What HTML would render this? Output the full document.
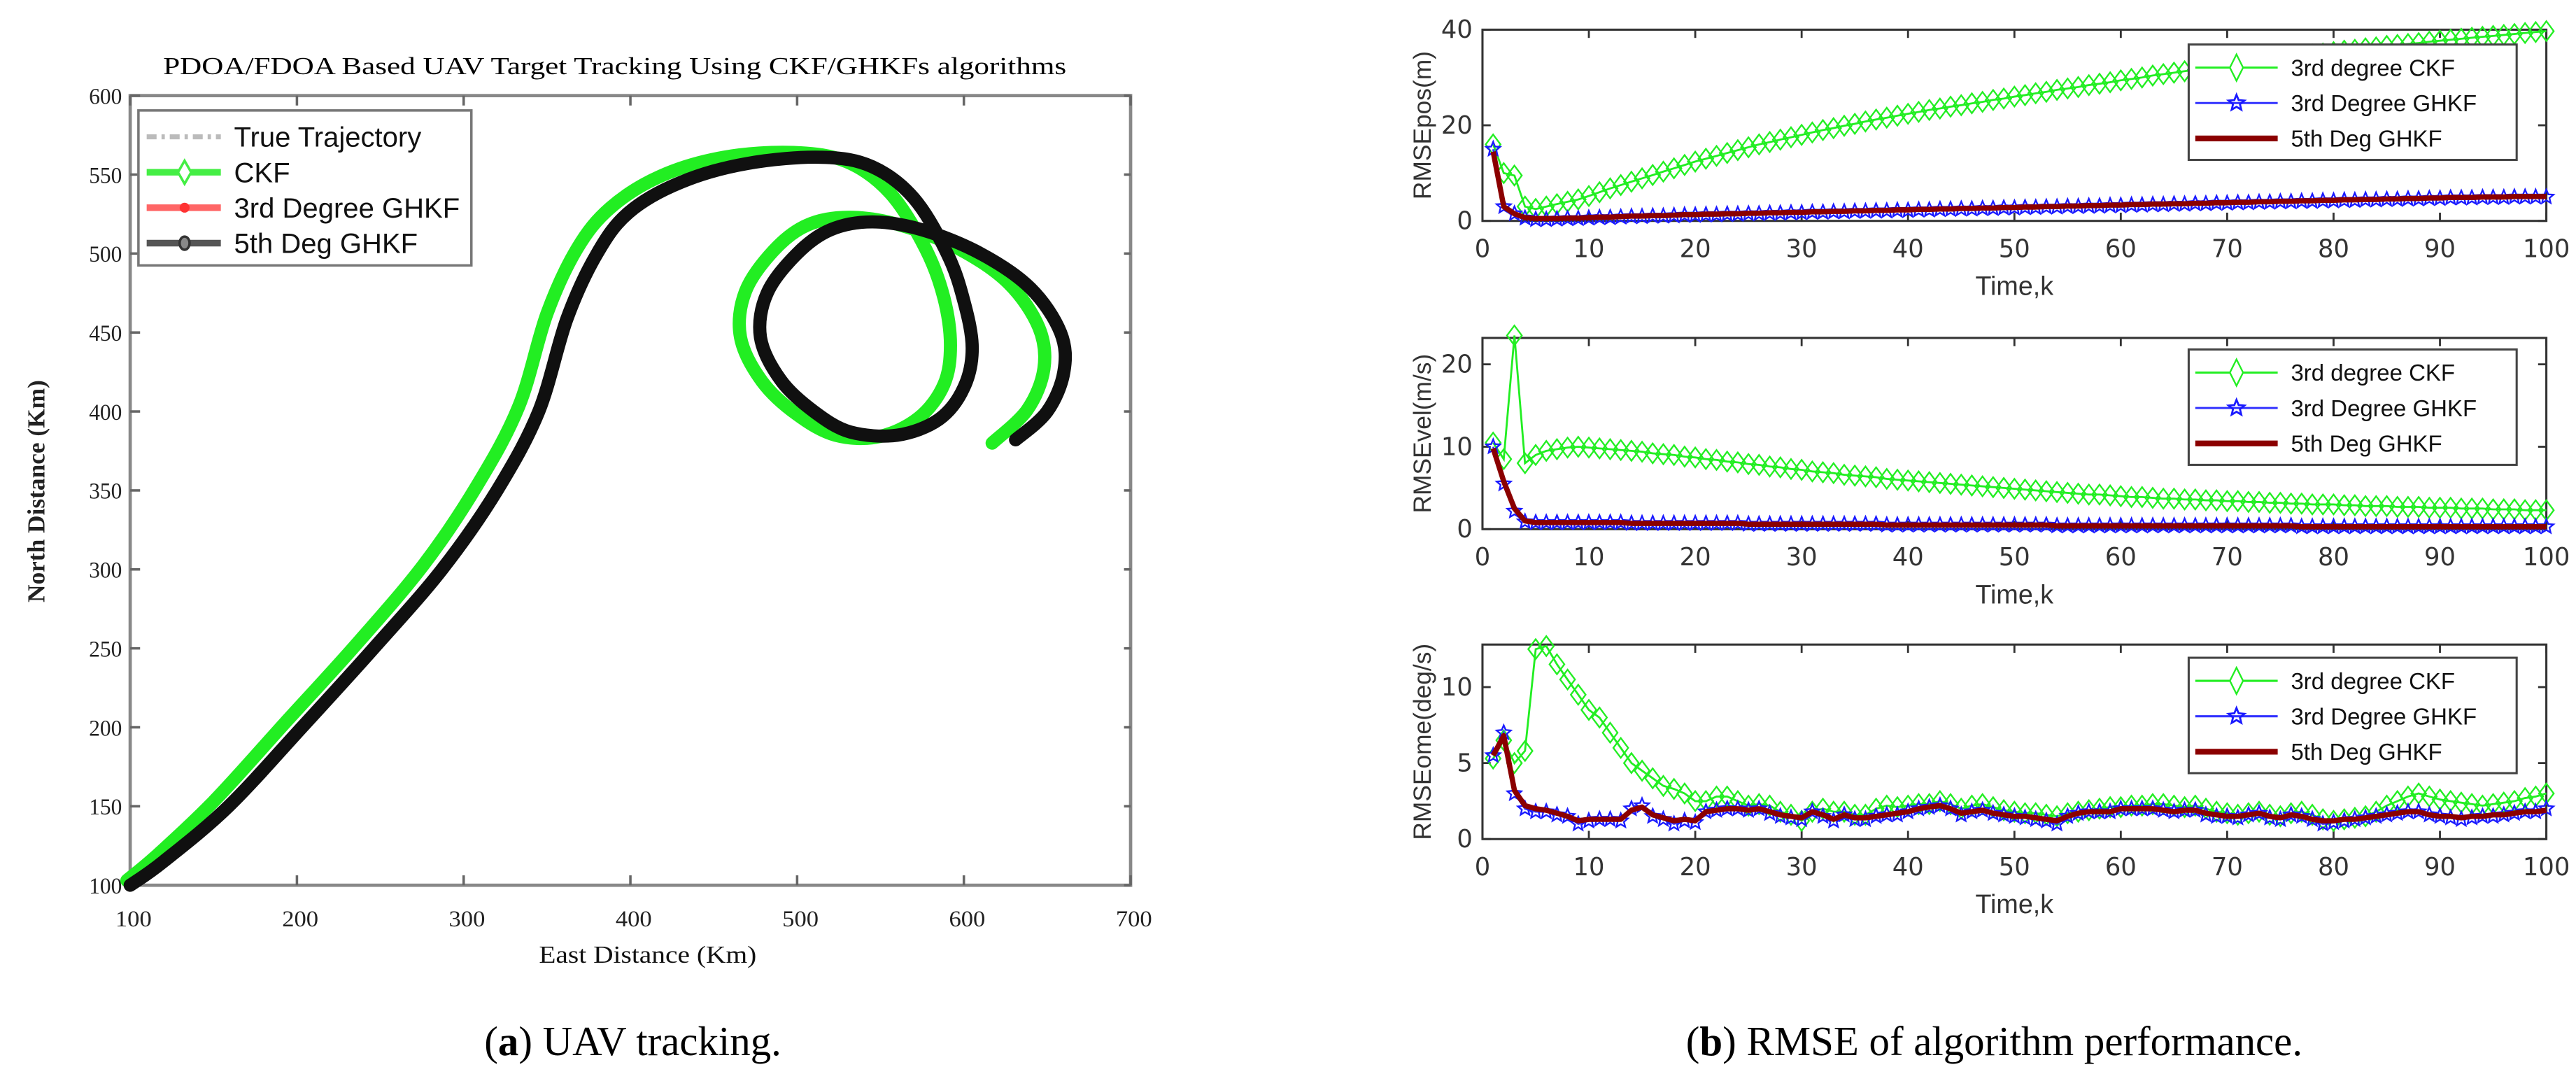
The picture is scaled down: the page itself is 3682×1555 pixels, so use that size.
<!DOCTYPE html>
<html><head><meta charset="utf-8">
<style>
html,body{margin:0;padding:0;background:#fff;}
svg{display:block;}
</style></head>
<body>
<svg id="fig" width="3682" height="1555" viewBox="0 0 1563 660" preserveAspectRatio="none" xmlns="http://www.w3.org/2000/svg">
<rect x="0" y="0" width="1563" height="660" fill="#fff"/>
<g id="left"></g>
<g id="right"></g>
<text x="384" y="640" text-anchor="middle" font-family="Liberation Serif, serif" font-size="25" fill="#000">(<tspan font-weight="bold">a</tspan>) UAV tracking.</text>
<text x="1210" y="640" text-anchor="middle" font-family="Liberation Serif, serif" font-size="25" fill="#000">(<tspan font-weight="bold">b</tspan>) RMSE of algorithm performance.</text>
</svg>
<script>
// ---------- Left chart data ----------
const trueEast = [100,120,159,203,246,287,320,345,362,380,399,430,470,515,545,570,590,600,605,600,585,560,532,510,490,478,482,500,520,545,575,610,640,658,660,650,631];
const trueNorth = [100,115,150,200,250,300,350,400,459,500,526,545,557,561,555,535,500,470,440,415,395,385,387,400,420,447,475,500,515,520,515,500,478,450,425,400,382];
const ckfEast = [98,115,150,193,236,276,308,333,350,368,388,418,456,498,530,556,577,588,592,588,573,549,523,500,479,466,469,486,506,531,562,597,627,645,648,638,617];
const ckfNorth = [103,118,153,203,253,303,353,403,462,503,529,549,561,564,558,538,503,472,442,417,396,384,385,398,419,447,476,502,518,523,518,503,481,453,427,401,380];
const xTicksL = [100,200,300,400,500,600,700];
const yTicksL = [100,150,200,250,300,350,400,450,500,550,600];

// ---------- Right charts data ----------
const kSteps = Array.from({length:100},(_,i)=>i+1);
const posCKF = [16,10,9.5,3,2.5,3,3.5,4,4.5,5.2,6,6.8,7.5,8.2,8.9,9.6,10.3,11,11.7,12.4,13,13.6,14.2,14.8,15.4,16,16.5,17,17.5,18,18.5,19,19.4,19.9,20.3,20.8,21.2,21.6,22,22.4,22.8,23.2,23.5,23.9,24.2,24.6,24.9,25.3,25.6,26,26.3,26.7,27,27.4,27.7,28,28.4,28.7,29,29.4,29.7,30,30.4,30.7,31,31.3,31.6,31.9,32.2,32.5,32.8,33.1,33.4,33.7,34,34.3,34.5,34.8,35,35.3,35.6,35.8,36.1,36.3,36.6,36.8,37,37.2,37.5,37.7,37.9,38.1,38.3,38.5,38.7,38.9,39.1,39.3,39.5,39.7];
const posGH3 = [15,3,1.5,0.6,0.3,0.3,0.4,0.5,0.5,0.6,0.7,0.7,0.8,0.9,0.9,1,1,1.1,1.2,1.2,1.3,1.3,1.4,1.4,1.5,1.5,1.6,1.6,1.7,1.7,1.8,1.8,1.9,1.9,2,2,2.1,2.1,2.2,2.2,2.3,2.3,2.4,2.4,2.5,2.5,2.6,2.6,2.7,2.7,2.8,2.8,2.9,2.9,3,3,3.1,3.1,3.2,3.2,3.3,3.3,3.4,3.4,3.5,3.5,3.6,3.6,3.7,3.7,3.8,3.8,3.9,3.9,4,4,4.1,4.1,4.2,4.2,4.3,4.3,4.4,4.4,4.5,4.5,4.6,4.6,4.7,4.7,4.8,4.8,4.8,4.9,4.9,4.9,5,5,5,5];
const posGH5 = [14.5,3,1.5,0.7,0.5,0.5,0.5,0.6,0.6,0.7,0.8,0.8,0.9,1,1,1.1,1.1,1.2,1.3,1.3,1.4,1.4,1.5,1.5,1.6,1.6,1.7,1.7,1.8,1.8,1.9,1.9,2,2,2.1,2.1,2.2,2.2,2.3,2.3,2.4,2.4,2.5,2.5,2.6,2.6,2.7,2.7,2.8,2.8,2.9,2.9,3,3,3.1,3.1,3.2,3.2,3.3,3.3,3.4,3.4,3.5,3.5,3.6,3.6,3.7,3.7,3.8,3.8,3.9,3.9,4,4,4.1,4.1,4.2,4.2,4.3,4.3,4.4,4.4,4.5,4.5,4.6,4.6,4.7,4.7,4.8,4.8,4.9,4.9,4.9,5,5,5,5.1,5.1,5.1,5.1];
const velCKF = [10.5,8.5,23.5,8,9,9.5,9.7,9.9,10,9.9,9.8,9.7,9.6,9.5,9.4,9.2,9.1,9,8.8,8.7,8.5,8.4,8.2,8.1,7.9,7.8,7.6,7.5,7.3,7.2,7,6.9,6.8,6.6,6.5,6.4,6.3,6.1,6,5.9,5.8,5.7,5.6,5.5,5.4,5.3,5.2,5.1,5,4.9,4.8,4.7,4.6,4.5,4.4,4.3,4.2,4.2,4.1,4,3.9,3.9,3.8,3.7,3.7,3.6,3.6,3.5,3.5,3.4,3.4,3.3,3.3,3.2,3.2,3.1,3.1,3,3,3,2.9,2.9,2.8,2.8,2.8,2.7,2.7,2.7,2.6,2.6,2.6,2.5,2.5,2.5,2.4,2.4,2.4,2.3,2.3,2.3];
const velGH3 = [10,5.5,2.2,0.9,0.8,0.8,0.8,0.8,0.8,0.8,0.8,0.8,0.8,0.7,0.7,0.7,0.7,0.7,0.7,0.7,0.7,0.7,0.7,0.7,0.6,0.6,0.6,0.6,0.6,0.6,0.6,0.6,0.6,0.6,0.6,0.6,0.6,0.5,0.5,0.5,0.5,0.5,0.5,0.5,0.5,0.5,0.5,0.5,0.5,0.5,0.5,0.5,0.5,0.4,0.4,0.4,0.4,0.4,0.4,0.4,0.4,0.4,0.4,0.4,0.4,0.4,0.4,0.4,0.4,0.4,0.4,0.4,0.4,0.4,0.4,0.4,0.3,0.3,0.3,0.3,0.3,0.3,0.3,0.3,0.3,0.3,0.3,0.3,0.3,0.3,0.3,0.3,0.3,0.3,0.3,0.3,0.3,0.3,0.3,0.3];
const velGH5 = [9.8,5.8,2.5,1,0.8,0.8,0.8,0.8,0.8,0.8,0.8,0.8,0.8,0.7,0.7,0.7,0.7,0.7,0.7,0.7,0.7,0.7,0.7,0.7,0.6,0.6,0.6,0.6,0.6,0.6,0.6,0.6,0.6,0.6,0.6,0.6,0.6,0.5,0.5,0.5,0.5,0.5,0.5,0.5,0.5,0.5,0.5,0.5,0.5,0.5,0.5,0.5,0.5,0.4,0.4,0.4,0.4,0.4,0.4,0.4,0.4,0.4,0.4,0.4,0.4,0.4,0.4,0.4,0.4,0.4,0.4,0.4,0.4,0.4,0.4,0.4,0.3,0.3,0.3,0.3,0.3,0.3,0.3,0.3,0.3,0.3,0.3,0.3,0.3,0.3,0.3,0.3,0.3,0.3,0.3,0.3,0.3,0.3,0.3,0.3];
const omeCKF = [5.3,6.5,5,5.8,12.5,12.7,11.5,10.5,9.5,8.5,8,7,6,5,4.5,4,3.5,3.3,3,2.5,2.5,2.8,2.8,2.5,2.2,2.3,2.2,1.8,1.6,1.2,1.8,2,1.8,1.8,1.6,1.6,2,2.2,2.1,2.2,2.3,2.3,2.5,2.3,2,2.2,2.3,2.1,1.9,1.8,1.7,1.7,1.6,1.5,1.7,1.8,1.9,2,2.1,2.1,2.2,2.2,2.3,2.3,2.2,2.1,2.2,2,1.8,1.7,1.6,1.7,1.8,1.6,1.5,1.7,1.8,1.6,1.3,1.2,1.3,1.4,1.5,1.8,2.2,2.5,2.8,3,2.8,2.6,2.5,2.4,2.3,2.2,2.3,2.4,2.5,2.7,2.8,3];
const omeGH3 = [5.5,7,3,2,1.8,1.8,1.6,1.5,1,1.2,1.3,1.3,1.2,2,2.2,1.5,1.3,1,1.2,1.1,1.8,1.9,2,2,1.9,2,1.7,1.5,1.4,1.3,1.8,1.5,1.2,1.6,1.3,1.3,1.5,1.6,1.6,1.8,2,2.1,2.2,2,1.6,1.8,1.9,1.7,1.6,1.5,1.4,1.3,1.2,1,1.5,1.7,1.8,1.8,1.8,2,2,2,2,1.9,1.8,1.9,1.9,1.6,1.5,1.5,1.4,1.6,1.7,1.4,1.3,1.6,1.5,1.3,1,1.1,1.2,1.3,1.4,1.5,1.6,1.7,1.8,1.8,1.6,1.5,1.4,1.3,1.4,1.5,1.5,1.6,1.7,1.8,1.8,2];
const omeGH5 = [5.5,6.8,3.2,2.2,2,1.9,1.7,1.5,1.2,1.3,1.3,1.3,1.3,1.9,2.1,1.6,1.4,1.2,1.3,1.2,1.8,1.9,2,2,1.9,2,1.8,1.6,1.5,1.4,1.8,1.6,1.3,1.6,1.4,1.4,1.5,1.6,1.7,1.8,2,2.1,2.2,2,1.7,1.8,1.9,1.7,1.6,1.5,1.5,1.4,1.3,1.2,1.5,1.7,1.8,1.8,1.8,2,2,2,2,1.9,1.8,1.9,1.9,1.7,1.6,1.5,1.5,1.6,1.7,1.5,1.4,1.6,1.5,1.3,1.2,1.2,1.3,1.3,1.4,1.5,1.6,1.7,1.8,1.8,1.6,1.5,1.5,1.4,1.5,1.5,1.6,1.6,1.7,1.8,1.8,1.9];
const xTicksR = [0,10,20,30,40,50,60,70,80,90,100];

const NS='http://www.w3.org/2000/svg';
function mk(tag, attrs, parent){
  const e=document.createElementNS(NS,tag);
  for(const k in attrs) e.setAttribute(k, attrs[k]);
  parent.appendChild(e); return e;
}
function txt(s, attrs, parent){ const e=mk('text',attrs,parent); e.textContent=s; return e; }

// ---------- Left chart ----------
const L=document.getElementById('left');
const lx0=79, lx1=686, ly0=58, ly1=537;
const lxs=v=>lx0+(v-100)/600*(lx1-lx0);
const lys=v=>ly1-(v-100)/500*(ly1-ly0);
const lt=txt('PDOA/FDOA Based UAV Target Tracking Using CKF/GHKFs algorithms',{x:373,y:45,'text-anchor':'middle','font-family':'Liberation Serif, serif','font-size':15,textLength:548,lengthAdjust:'spacingAndGlyphs',fill:'#000'},L);


const lframe=mk('rect',{x:lx0,y:ly0,width:lx1-lx0,height:ly1-ly0,fill:'none',stroke:'#888',"stroke-width":2},L);


xTicksL.forEach(v=>{
  const x=lxs(v);
  mk('line',{x1:x,y1:ly1,x2:x,y2:ly1-6,stroke:'#666','stroke-width':1.5},L);
  mk('line',{x1:x,y1:ly0,x2:x,y2:ly0+6,stroke:'#666','stroke-width':1.5},L);
  const t=txt(String(v),{x:x+2,y:ly1+25,'text-anchor':'middle','font-family':'Liberation Serif, serif','font-size':14,textLength:22,lengthAdjust:'spacingAndGlyphs',fill:'#222'},L);
  
  
});
yTicksL.forEach(v=>{
  const y=lys(v);
  mk('line',{x1:lx0,y1:y,x2:lx0+6,y2:y,stroke:'#666','stroke-width':1.5},L);
  mk('line',{x1:lx1,y1:y,x2:lx1-4,y2:y,stroke:'#666','stroke-width':1.5},L);
  const t=txt(String(v),{x:lx0-5,y:y+5,'text-anchor':'end','font-family':'Liberation Serif, serif','font-size':14,textLength:20,lengthAdjust:'spacingAndGlyphs',fill:'#222'},L);
  
  
});
const lxl=txt('East Distance (Km)',{x:393,y:584,'text-anchor':'middle','font-family':'Liberation Serif, serif','font-size':15,textLength:132,lengthAdjust:'spacingAndGlyphs',fill:'#111'},L);


const lyl=txt('North Distance (Km)',{x:0,y:0,transform:'translate(27,298) rotate(-90)','text-anchor':'middle','font-family':'Liberation Serif, serif','font-size':15,'font-weight':'bold',fill:'#222'},L);


function lpath(xs,ys){
  const P=xs.map((v,i)=>[lxs(v),lys(ys[i])]);
  let d='M'+P[0][0].toFixed(1)+','+P[0][1].toFixed(1);
  for(let i=0;i<P.length-1;i++){
    const p0=P[Math.max(0,i-1)],p1=P[i],p2=P[i+1],p3=P[Math.min(P.length-1,i+2)];
    const c1=[p1[0]+(p2[0]-p0[0])/6,p1[1]+(p2[1]-p0[1])/6];
    const c2=[p2[0]-(p3[0]-p1[0])/6,p2[1]-(p3[1]-p1[1])/6];
    d+=`C${c1[0].toFixed(1)},${c1[1].toFixed(1)} ${c2[0].toFixed(1)},${c2[1].toFixed(1)} ${p2[0].toFixed(1)},${p2[1].toFixed(1)}`;
  }
  return d;
}
const gck=mk('path',{d:lpath(ckfEast,ckfNorth),fill:'none',stroke:'#22ee22','stroke-width':8,'stroke-linejoin':'round','stroke-linecap':'round'},L);


const gtr=mk('path',{d:lpath(trueEast,trueNorth),fill:'none',stroke:'#101010','stroke-width':8,'stroke-linejoin':'round','stroke-linecap':'round'},L);


// left legend
const lg=mk('g',{},L);


mk('rect',{x:84,y:67,width:202,height:94,fill:'#fff',stroke:'#777','stroke-width':1.5},lg);
const lItems=[['True Trajectory','#bbb','dash'],['CKF','#44ee44','diamond'],['3rd Degree GHKF','#ff6666','star'],['5th Deg GHKF','#555','circle']];
lItems.forEach((it,i)=>{
  const y=83+i*21.5;
  mk('line',{x1:89,y1:y,x2:134,y2:y,stroke:it[1],'stroke-width':it[2]==='dash'?3:4,'stroke-dasharray':it[2]==='dash'?'6,3,2,3':''},lg);
  if(it[2]==='diamond') mk('path',{d:`M112,${y-7}L116,${y}L112,${y+7}L108,${y}Z`,fill:'#fff',stroke:it[1],'stroke-width':1.5},lg);
  if(it[2]==='star') mk('circle',{cx:112,cy:y,r:3,fill:'#ff3333'},lg);
  if(it[2]==='circle') mk('ellipse',{cx:112,cy:y,rx:3,ry:4,fill:'#888',stroke:'#333','stroke-width':1.5},lg);
  const t=txt(it[0],{x:142,y:y+6,'font-family':'Liberation Sans Narrow, Liberation Sans, sans-serif','font-size':17,fill:'#111'},lg);
  
  
});

// ---------- Right charts ----------
const R=document.getElementById('right');
const rx0=899.5, rx1=1545;
const rxs=v=>rx0+v/100*(rx1-rx0);
const panels=[
  {name:'rmse-pos',top:18,bot:134,ymax:40,ticks:[0,20,40],label:'RMSEpos(m)',ck:posCKF,g3:posGH3,g5:posGH5,tk:150,tl:174,leg:27},
  {name:'rmse-vel',top:205,bot:321,ymax:23.2,ticks:[0,10,20],label:'RMSEvel(m/s)',ck:velCKF,g3:velGH3,g5:velGH5,tk:337,tl:361,leg:212},
  {name:'rmse-ome',top:391,bot:509,ymax:12.8,ticks:[0,5,10],label:'RMSEome(deg/s)',ck:omeCKF,g3:omeGH3,g5:omeGH5,tk:525,tl:549,leg:399}
];
function starPath(cx,cy,r){
  let d='';
  for(let i=0;i<10;i++){const a=-Math.PI/2+i*Math.PI/5;const rr=i%2?r*0.45:r;d+=(i?'L':'M')+(cx+rr*Math.cos(a)).toFixed(1)+','+(cy+rr*Math.sin(a)).toFixed(1);}
  return d+'Z';
}
panels.forEach(p=>{
  const g=mk('g',{},R);
  
  
  const ys=v=>p.bot-v/p.ymax*(p.bot-p.top);
  mk('rect',{x:rx0,y:p.top,width:rx1-rx0,height:p.bot-p.top,fill:'#fff',stroke:'#333','stroke-width':1.3},g);
  xTicksR.forEach(v=>{
    const x=rxs(v);
    mk('line',{x1:x,y1:p.bot,x2:x,y2:p.bot-5,stroke:'#333','stroke-width':1.2},g);
    mk('line',{x1:x,y1:p.top,x2:x,y2:p.top+5,stroke:'#333','stroke-width':1.2},g);
    const t=txt(String(v),{x:x,y:p.tk+6,'text-anchor':'middle','font-family':'DejaVu Sans, sans-serif','font-size':15,fill:'#333'},g);
    
    
  });
  p.ticks.forEach(v=>{
    const y=ys(v);
    mk('line',{x1:rx0,y1:y,x2:rx0+5,y2:y,stroke:'#333','stroke-width':1.2},g);
    mk('line',{x1:rx1,y1:y,x2:rx1-5,y2:y,stroke:'#333','stroke-width':1.2},g);
    const t=txt(String(v),{x:rx0-6,y:y+5,'text-anchor':'end','font-family':'DejaVu Sans, sans-serif','font-size':15,fill:'#333'},g);
    
    
  });
  const xl=txt('Time,k',{x:(rx0+rx1)/2,y:p.tl+5,'text-anchor':'middle','font-family':'Liberation Sans, sans-serif','font-size':16,fill:'#333'},g);
  
  
  const yl=txt(p.label,{x:0,y:0,transform:`translate(868,${(p.top+p.bot)/2}) rotate(-90)`,'text-anchor':'middle','font-family':'Liberation Sans, sans-serif','font-size':15,fill:'#333'},g);
  
  
  const pth=arr=>arr.map((v,i)=>(i?'L':'M')+rxs(kSteps[i]).toFixed(1)+','+ys(v).toFixed(1)).join('');
  // CKF
  const ck=mk('g',{},g);
  
  
  mk('path',{d:pth(p.ck),fill:'none',stroke:'#22ee22','stroke-width':1.2},ck);
  p.ck.forEach((v,i)=>{const x=rxs(kSteps[i]),y=ys(v);
    mk('path',{d:`M${x},${y-6}L${x+4.5},${y}L${x},${y+6}L${x-4.5},${y}Z`,fill:'none',stroke:'#22ee22','stroke-width':1},ck);});
  // GHKF3
  const g3=mk('g',{},g);
  
  
  mk('path',{d:pth(p.g3),fill:'none',stroke:'#3333ff','stroke-width':1.2},g3);
  p.g3.forEach((v,i)=>{mk('path',{d:starPath(rxs(kSteps[i]),ys(v),4.5),fill:'none',stroke:'#1a1aff','stroke-width':1},g3);});
  // GHKF5
  const g5=mk('path',{d:pth(p.g5),fill:'none',stroke:'#8b0000','stroke-width':3.2,'stroke-linejoin':'round'},g);
  
  
  // legend
  const lgR=mk('g',{},g);
  
  
  mk('rect',{x:1328,y:p.leg,width:199,height:70,fill:'#fff',stroke:'#444','stroke-width':1.3},lgR);
  const items=[['3rd degree CKF','#22ee22','d'],['3rd Degree GHKF','#3333ff','s'],['5th Deg GHKF','#8b0000','l']];
  items.forEach((it,i)=>{
    const y=p.leg+14+i*21.5;
    mk('line',{x1:1332,y1:y,x2:1382,y2:y,stroke:it[1],'stroke-width':it[2]==='l'?3.5:1.3},lgR);
    if(it[2]==='d') mk('path',{d:`M1357,${y-8}L1361,${y}L1357,${y+8}L1353,${y}Z`,fill:'#fff',stroke:it[1],'stroke-width':1},lgR);
    if(it[2]==='s') mk('path',{d:starPath(1357,y,5),fill:'none',stroke:'#1a1aff','stroke-width':1.2},lgR);
    const t=txt(it[0],{x:1390,y:y+5,'font-family':'Liberation Sans Narrow, Liberation Sans, sans-serif','font-size':14,fill:'#111'},lgR);
    
    
  });
});
</script>
</body></html>
